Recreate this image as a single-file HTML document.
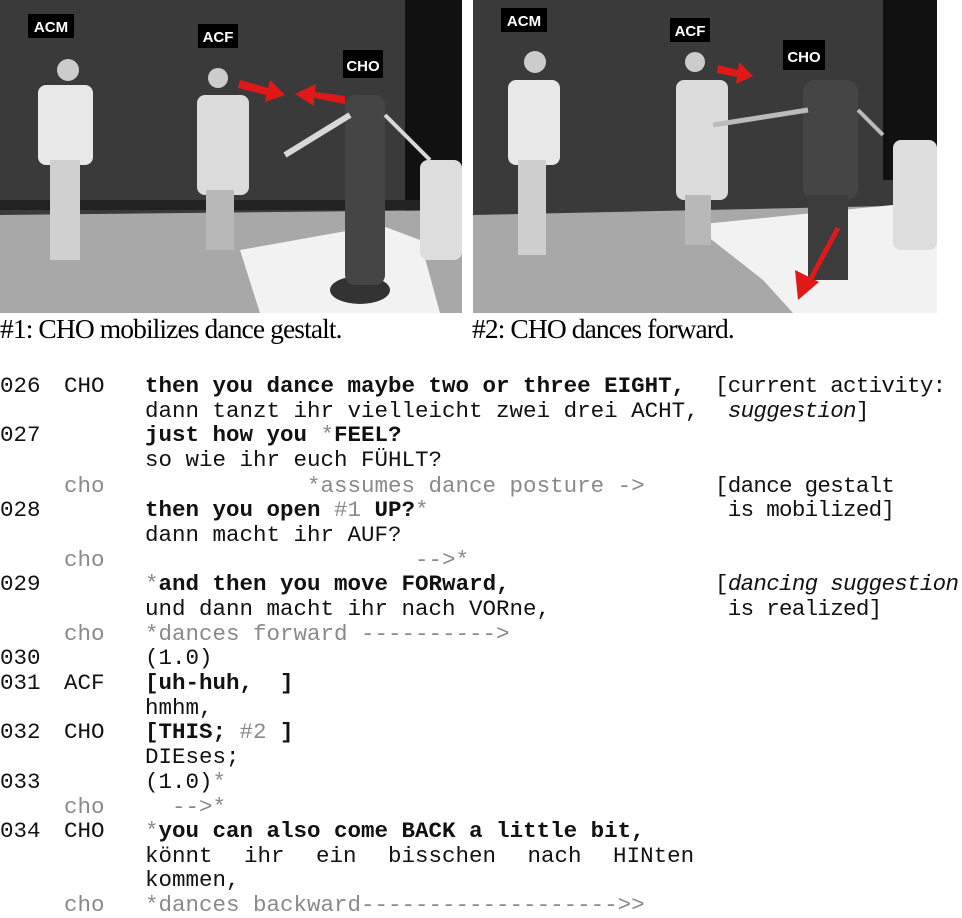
<!DOCTYPE html>
<html><head><meta charset="utf-8"><style>
body{margin:0;width:962px;height:912px;background:#fff;position:relative;overflow:hidden;font-family:"Liberation Mono",monospace}
.l{position:absolute;font-size:22.5px;line-height:25px;white-space:pre;color:#111}
.b{font-weight:bold}
.g{color:#8a8a8a;font-weight:normal}
.r{letter-spacing:-0.7px}
.cap{position:absolute;top:313px;font-family:"Liberation Serif",serif;font-size:27.5px;letter-spacing:-0.9px;color:#000}
i{font-style:italic}
</style></head><body>
<svg width="962" height="315" style="position:absolute;left:0;top:0" xmlns="http://www.w3.org/2000/svg">
<g>
<rect x="0" y="0" width="462" height="313" fill="#3a3a3a"/>
<rect x="405" y="0" width="57" height="230" fill="#111"/>
<rect x="0" y="200" width="462" height="10" fill="#222"/>
<polygon points="0,215 462,210 462,313 0,313" fill="#a8a8a8"/>
<polygon points="240,250 380,225 420,240 440,313 260,313" fill="#f2f2f2"/>
<ellipse cx="360" cy="290" rx="30" ry="14" fill="#333"/>
<rect x="420" y="160" width="42" height="100" rx="8" fill="#ddd"/>
<rect x="38" y="85" width="55" height="80" rx="8" fill="#e8e8e8"/>
<circle cx="68" cy="70" r="11" fill="#ccc"/>
<rect x="50" y="160" width="30" height="100" fill="#d0d0d0"/>
<rect x="28" y="14" width="46" height="24" fill="#000"/><text x="51" y="32" fill="#fff" font-family="Liberation Sans" font-weight="bold" font-size="15" text-anchor="middle">ACM</text>
<rect x="197" y="95" width="52" height="100" rx="8" fill="#dcdcdc"/>
<circle cx="218" cy="78" r="10" fill="#ccc"/>
<rect x="206" y="190" width="28" height="60" fill="#b8b8b8"/>
<rect x="198" y="24" width="40" height="24" fill="#000"/><text x="218" y="42" fill="#fff" font-family="Liberation Sans" font-weight="bold" font-size="15" text-anchor="middle">ACF</text>
<rect x="345" y="95" width="40" height="190" rx="10" fill="#454545"/>
<line x1="350" y1="115" x2="285" y2="155" stroke="#d8d8d8" stroke-width="6"/>
<line x1="385" y1="115" x2="430" y2="160" stroke="#d8d8d8" stroke-width="4"/>
<rect x="343" y="50" width="40" height="28" fill="#000"/><text x="363" y="71" fill="#fff" font-family="Liberation Sans" font-weight="bold" font-size="15" text-anchor="middle">CHO</text>
<polygon points="240,80 268,88 270,80 285,95 265,102 266,95 238,88" fill="#e01818"/>
<polygon points="345,96 315,92 316,84 295,94 314,106 314,98 345,104" fill="#e01818"/>
</g>
<g transform="translate(473,0)">
<rect x="0" y="0" width="464" height="313" fill="#3a3a3a"/>
<rect x="410" y="0" width="54" height="180" fill="#111"/>
<polygon points="0,215 464,205 464,313 0,313" fill="#a8a8a8"/>
<polygon points="220,225 420,205 464,240 464,313 320,313 290,280" fill="#f2f2f2"/>
<rect x="420" y="140" width="44" height="110" rx="8" fill="#ddd"/>
<rect x="35" y="80" width="52" height="85" rx="8" fill="#e8e8e8"/>
<circle cx="62" cy="62" r="11" fill="#ccc"/>
<rect x="45" y="160" width="28" height="95" fill="#cfcfcf"/>
<rect x="28" y="8" width="46" height="24" fill="#000"/><text x="51" y="26" fill="#fff" font-family="Liberation Sans" font-weight="bold" font-size="15" text-anchor="middle">ACM</text>
<rect x="203" y="80" width="52" height="120" rx="8" fill="#dcdcdc"/>
<circle cx="222" cy="62" r="10" fill="#ccc"/>
<rect x="212" y="195" width="26" height="50" fill="#b8b8b8"/>
<rect x="197" y="18" width="40" height="24" fill="#000"/><text x="217" y="36" fill="#fff" font-family="Liberation Sans" font-weight="bold" font-size="15" text-anchor="middle">ACF</text>
<rect x="330" y="80" width="55" height="120" rx="12" fill="#454545"/>
<rect x="335" y="195" width="40" height="85" fill="#3c3c3c"/>
<line x1="335" y1="110" x2="240" y2="125" stroke="#bbb" stroke-width="5"/>
<line x1="385" y1="110" x2="410" y2="135" stroke="#bbb" stroke-width="4"/>
<rect x="310" y="40" width="42" height="30" fill="#000"/><text x="331" y="62" fill="#fff" font-family="Liberation Sans" font-weight="bold" font-size="15" text-anchor="middle">CHO</text>
<polygon points="245,65 265,70 266,62 280,76 263,84 264,77 244,73" fill="#e01818"/>
<line x1="365" y1="228" x2="336" y2="282" stroke="#e01818" stroke-width="5"/>
<polygon points="325,300 322,270 346,282" fill="#e01818"/>
</g>
</svg>
<div class="cap" style="left:0">#1: CHO mobilizes dance gestalt.</div>
<div class="cap" style="left:472px">#2: CHO dances forward.</div>

<div class="l" style="left:0;top:374px">026</div><div class="l" style="left:64px;top:374px">CHO</div><div class="l b" style="left:145px;top:374px">then you dance maybe two or three EIGHT,</div>
<div class="l" style="left:145px;top:399px">dann tanzt ihr vielleicht zwei drei ACHT,</div>
<div class="l" style="left:0;top:423px">027</div><div class="l b" style="left:145px;top:423px">just how you <span class="g">*</span>FEEL?</div>
<div class="l" style="left:145px;top:448px">so wie ihr euch FÜHLT?</div>
<div class="l g" style="left:64px;top:474px">cho</div><div class="l g" style="left:145px;top:474px">            *assumes dance posture -&gt;</div>
<div class="l" style="left:0;top:498px">028</div><div class="l b" style="left:145px;top:498px">then you open <span class="g">#1</span> UP?<span class="g">*</span></div>
<div class="l" style="left:145px;top:523px">dann macht ihr AUF?</div>
<div class="l g" style="left:64px;top:548px">cho</div><div class="l g" style="left:145px;top:548px">                    --&gt;*</div>
<div class="l" style="left:0;top:572px">029</div><div class="l b" style="left:145px;top:572px"><span class="g">*</span>and then you move FORward,</div>
<div class="l" style="left:145px;top:597px">und dann macht ihr nach VORne,</div>
<div class="l g" style="left:64px;top:622px">cho</div><div class="l g" style="left:145px;top:622px">*dances forward ----------&gt;</div>
<div class="l" style="left:0;top:646px">030</div><div class="l" style="left:145px;top:646px">(1.0)</div>
<div class="l" style="left:0;top:671px">031</div><div class="l" style="left:64px;top:671px">ACF</div><div class="l b" style="left:145px;top:671px">[uh-huh,  ]</div>
<div class="l" style="left:145px;top:696px">hmhm,</div>
<div class="l" style="left:0;top:720px">032</div><div class="l" style="left:64px;top:720px">CHO</div><div class="l b" style="left:145px;top:720px">[THIS; <span class="g">#2</span> ]</div>
<div class="l" style="left:145px;top:745px">DIEses;</div>
<div class="l" style="left:0;top:770px">033</div><div class="l" style="left:145px;top:770px">(1.0)<span class="g">*</span></div>
<div class="l g" style="left:64px;top:795px">cho</div><div class="l g" style="left:145px;top:795px">  --&gt;*</div>
<div class="l" style="left:0;top:819px">034</div><div class="l" style="left:64px;top:819px">CHO</div><div class="l b" style="left:145px;top:819px"><span class="g">*</span>you can also come BACK a little bit,</div>
<div class="l" style="left:145px;top:844px;word-spacing:18px">könnt ihr ein bisschen nach HINten</div>
<div class="l" style="left:145px;top:868px">kommen,</div>
<div class="l g" style="left:64px;top:893px">cho</div><div class="l g" style="left:145px;top:893px">*dances backward-------------------&gt;&gt;</div>

<div class="l r" style="left:715px;top:374px">[current activity:</div>
<div class="l r" style="left:715px;top:399px"> <i>suggestion</i>]</div>
<div class="l r" style="left:715px;top:474px">[dance gestalt</div>
<div class="l r" style="left:715px;top:498px"> is mobilized]</div>
<div class="l r" style="left:715px;top:572px">[<i>dancing suggestion</i></div>
<div class="l r" style="left:715px;top:597px"> is realized]</div>
</body></html>
